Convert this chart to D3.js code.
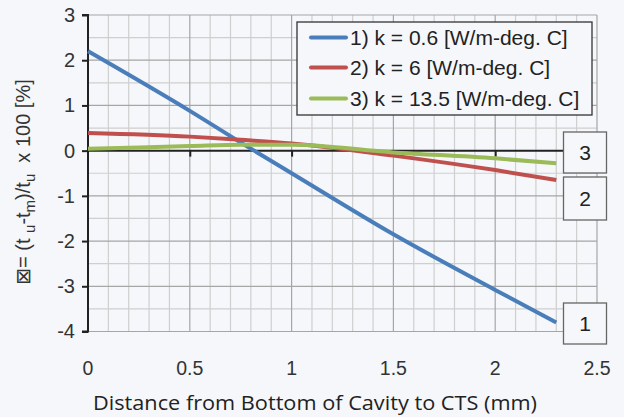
<!DOCTYPE html>
<html>
<head>
<meta charset="utf-8">
<script src="https://cdn.jsdelivr.net/npm/d3@7"></script>
<style>
  html, body { margin: 0; padding: 0; background: #f5f7fa; }
  svg { display: block; }
</style>
</head>
<body>
<svg id="chart" width="624" height="417"></svg>
<script>
// Distance from cavity bottom (mm) and relative error for three conductivities
const distance = [0, 0.5, 0.75, 1, 1.5, 2, 2.3];
const errK06   = [2.2, 0.88, 0.18, -0.5, -1.85, -3.08, -3.8];
const errK6    = [0.39, 0.31, 0.24, 0.16, -0.11, -0.43, -0.65];
const errK135  = [0.04, 0.10, 0.13, 0.13, -0.04, -0.17, -0.28];

const seriesNames = ["1) k = 0.6 [W/m-deg. C]", "2) k = 6 [W/m-deg. C]", "3) k = 13.5 [W/m-deg. C]"];
const seriesTags = ["1", "2", "3"];
const seriesColors = ["#4a7ebb", "#c0504d", "#9bbb59"];

const xTicks = [0, 0.5, 1, 1.5, 2, 2.5];
const yTicks = [-4, -3, -2, -1, 0, 1, 2, 3];
const xTitle = "Distance from Bottom of Cavity to CTS (mm)";

const FONT = "'Liberation Sans', Arial, sans-serif";

const svg = d3.select("#chart");
const W = 624, H = 417;
svg.append("rect").attr("width", W).attr("height", H).attr("fill", "#f5f7fa");

const plot = { left: 88, right: 597, top: 15, bottom: 331.5 };
const x = d3.scaleLinear().domain([0, 2.5]).range([plot.left, plot.right]);
const y = d3.scaleLinear().domain([-4, 3]).range([plot.bottom, plot.top]);

const g = svg.append("g");

// minor grid: every 0.1 mm and every half unit of error
const xMinor = d3.range(1, 25).map(i => i / 10).filter(v => Math.abs(v * 2 - Math.round(v * 2)) > 1e-6);
const yMinor = d3.range(-4, 3, 1).map(v => v + 0.5);
g.append("g").selectAll("line").data(xMinor).join("line")
  .attr("x1", d => x(d)).attr("x2", d => x(d))
  .attr("y1", plot.top).attr("y2", plot.bottom)
  .attr("stroke", "#cfcfcf").attr("stroke-width", 1.2);
g.append("g").selectAll("line").data(yMinor).join("line")
  .attr("x1", plot.left).attr("x2", plot.right)
  .attr("y1", d => y(d)).attr("y2", d => y(d))
  .attr("stroke", "#cfcfcf").attr("stroke-width", 1.2);

// major grid
g.append("g").selectAll("line").data(xTicks.filter(d => d > 0)).join("line")
  .attr("x1", d => x(d)).attr("x2", d => x(d))
  .attr("y1", plot.top).attr("y2", plot.bottom)
  .attr("stroke", "#a6a6a6").attr("stroke-width", 1.2);
g.append("g").selectAll("line").data(yTicks.filter(d => d !== 0)).join("line")
  .attr("x1", plot.left).attr("x2", plot.right)
  .attr("y1", d => y(d)).attr("y2", d => y(d))
  .attr("stroke", "#a6a6a6").attr("stroke-width", 1.2);

// y axis with outward ticks
const yAxis = d3.axisLeft(y).tickValues(yTicks).tickSize(6).tickPadding(7)
  .tickFormat(d3.format("d"));
const yg = svg.append("g").attr("transform", `translate(${plot.left},0)`).call(yAxis);
yg.select(".domain").attr("stroke", "#222").attr("stroke-width", 2)
  .attr("d", `M-6,${plot.top}H0V${plot.bottom}H-6`);
yg.selectAll(".tick line").attr("stroke", "#222").attr("stroke-width", 2);
yg.selectAll(".tick text").attr("font-family", FONT)
  .attr("font-size", 20).attr("fill", "#333").text(d => d < 0 ? "-" + Math.abs(d) : d);

// horizontal axis line at zero with downward ticks
const xAxis = d3.axisBottom(x).tickValues(xTicks.filter(d => d > 0 && d < 2.5)).tickSize(6).tickFormat("");
const xg = svg.append("g").attr("transform", `translate(0,${y(0)})`).call(xAxis);
xg.select(".domain").attr("stroke", "#222").attr("stroke-width", 2)
  .attr("d", `M${plot.left},0H${plot.right}`);
xg.selectAll(".tick line").attr("stroke", "#222").attr("stroke-width", 2);

// x tick labels along the bottom
svg.append("g").selectAll("text").data(xTicks).join("text")
  .attr("x", d => x(d)).attr("y", 375)
  .attr("text-anchor", "middle")
  .attr("font-family", FONT)
  .attr("font-size", 19.5).attr("fill", "#333")
  .text(d => d);

// series
const series = [errK06, errK6, errK135];
const line = d3.line().x(d => x(d[0])).y(d => y(d[1])).curve(d3.curveMonotoneX);
series.forEach((vals, i) => {
  svg.append("path")
    .datum(distance.map((dv, j) => [dv, vals[j]]))
    .attr("d", line)
    .attr("fill", "none")
    .attr("stroke", seriesColors[i])
    .attr("stroke-width", 4)
    .attr("stroke-linecap", "butt");
});

// tag boxes at the right ends of the curves
const tagBoxes = [
  { tag: seriesTags[2], top: 132, bottom: 173 },
  { tag: seriesTags[1], top: 177, bottom: 220 },
  { tag: seriesTags[0], top: 303, bottom: 344 }
];
const tg = svg.append("g");
tagBoxes.forEach(b => {
  tg.append("rect").attr("x", 563.5).attr("y", b.top).attr("width", 43).attr("height", b.bottom - b.top)
    .attr("fill", "#f5f7fa").attr("stroke", "#666").attr("stroke-width", 1.3);
  tg.append("text").attr("x", 585).attr("y", (b.top + b.bottom) / 2 + 7.5)
    .attr("text-anchor", "middle").attr("font-family", FONT)
    .attr("font-size", 21).attr("fill", "#222").text(b.tag);
});

// legend
const lg = svg.append("g");
lg.append("rect").attr("x", 297).attr("y", 22).attr("width", 295).attr("height", 93)
  .attr("fill", "#f5f7fa").attr("stroke", "#333").attr("stroke-width", 1.3);
const legendY = [37.5, 67.5, 98.5];
seriesNames.forEach((name, i) => {
  lg.append("line").attr("x1", 311).attr("x2", 346).attr("y1", legendY[i]).attr("y2", legendY[i])
    .attr("stroke", seriesColors[i]).attr("stroke-width", 4).attr("stroke-linecap", "round");
  lg.append("text").attr("x", 350).attr("y", legendY[i] + 7.5)
    .attr("font-family", FONT)
    .attr("font-size", 21).attr("fill", "#222").text(name);
});

// axis titles
svg.append("text").attr("x", 315).attr("y", 410)
  .attr("text-anchor", "middle")
  .attr("font-family", "'Open Sans', Lato, sans-serif")
  .attr("font-size", 20).attr("fill", "#222")
  .attr("textLength", 444).attr("lengthAdjust", "spacingAndGlyphs")
  .text(xTitle);

const yt = svg.append("text")
  .attr("transform", "translate(30,182) rotate(-90)")
  .attr("text-anchor", "middle")
  .attr("font-family", "'Liberation Sans', 'DejaVu Sans', Arial, sans-serif")
  .attr("font-size", 20).attr("fill", "#333");
yt.append("tspan").text("\u22A0= (t ");
yt.append("tspan").attr("font-size", 15).attr("dy", 5).text("u");
yt.append("tspan").attr("dy", -5).text("-t");
yt.append("tspan").attr("font-size", 15).attr("dy", 5).text("m");
yt.append("tspan").attr("dy", -5).text(")/t");
yt.append("tspan").attr("font-size", 15).attr("dy", 5).text("u");
yt.append("tspan").attr("dy", -5).text("\u00A0\u00A0x 100 [%]");
</script>
</body>
</html>
